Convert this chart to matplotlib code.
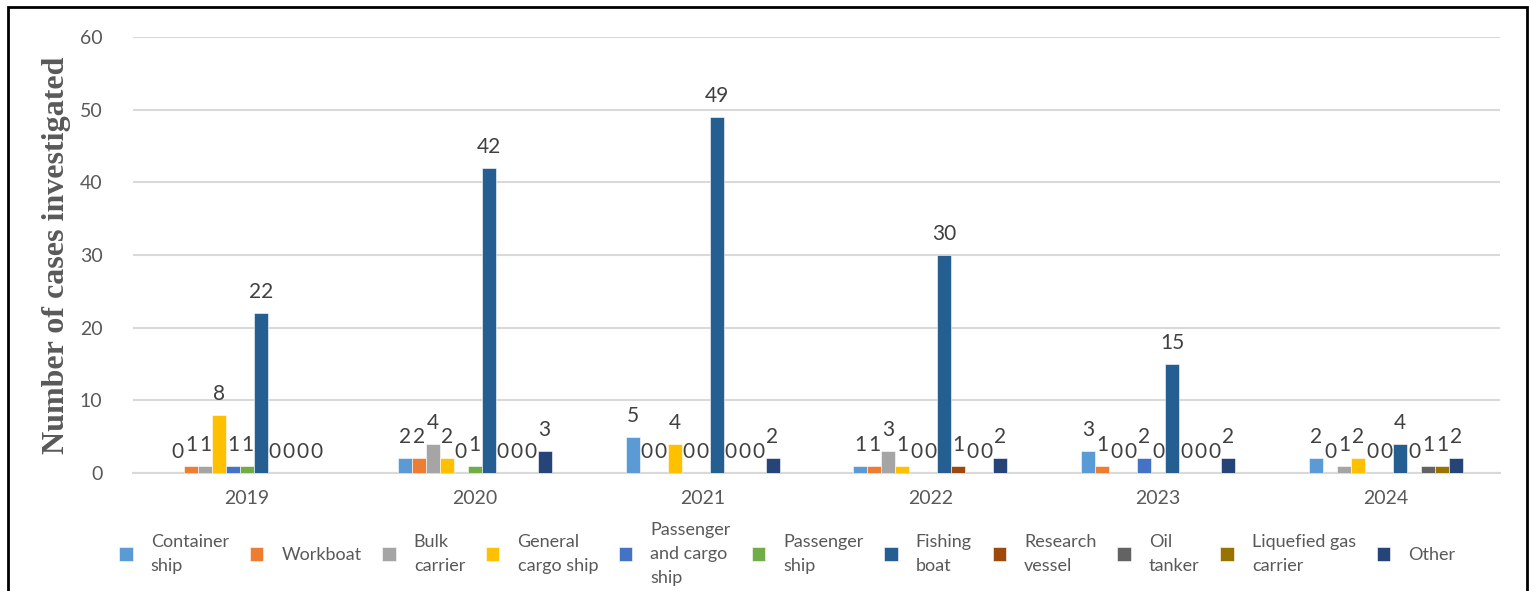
import matplotlib.pyplot as plt
import numpy as np
from matplotlib.patches import Rectangle

years = ['2019', '2020', '2021', '2022', '2023', '2024']
ship_types = ['Container\nship', 'Workboat', 'Bulk\ncarrier', 'General\ncargo ship',
              'Passenger\nand cargo\nship', 'Passenger\nship', 'Fishing\nboat',
              'Research\nvessel', 'Oil\ntanker', 'Liquefied gas\ncarrier', 'Other']

container = [0, 2, 5, 1, 3, 2]
workboat = [1, 2, 0, 1, 1, 0]
bulk = [1, 4, 0, 3, 0, 1]
general_cargo = [8, 2, 4, 1, 0, 2]
passenger_cargo = [1, 0, 0, 0, 2, 0]
passenger = [1, 1, 0, 0, 0, 0]
fishing = [22, 42, 49, 30, 15, 4]
research = [0, 0, 0, 1, 0, 0]
oil_tanker = [0, 0, 0, 0, 0, 1]
lng = [0, 0, 0, 0, 0, 1]
other = [0, 3, 2, 2, 2, 2]

series = [container, workboat, bulk, general_cargo, passenger_cargo, passenger,
          fishing, research, oil_tanker, lng, other]
colors = ['#5B9BD5', '#ED7D31', '#A5A5A5', '#FFC000', '#4472C4', '#70AD47',
          '#255E91', '#9E480E', '#636363', '#997300', '#264478']

plt.rcParams['font.family'] = ['Lato', 'DejaVu Sans']

fig = plt.figure(figsize=(15.29, 5.91), dpi=100)
ax = fig.add_axes([0.087, 0.1997, 0.894, 0.7377])

x = np.arange(len(years))
n = len(series)
w = 0.0614
for i, (vals, col) in enumerate(zip(series, colors)):
    pos = x + (i - (n - 1) / 2) * w
    bars = ax.bar(pos, vals, w, color=col, edgecolor='white', linewidth=0.4,
                  label=ship_types[i], zorder=3)
    for b, v in zip(bars, vals):
        ax.annotate(str(v), (b.get_x() + b.get_width() / 2, v),
                    xytext=(0, 8), textcoords='offset points',
                    ha='center', va='bottom', fontsize=15, color='#404040')

ax.set_xlim(-0.5, len(years) - 0.5)
ax.set_ylim(0, 60)
ax.set_yticks(range(0, 61, 10))
ax.set_xticks(x)
ax.set_xticklabels(years)
ax.tick_params(axis='both', length=0, labelsize=14, labelcolor='#595959')
ax.tick_params(axis='x', pad=12)
ax.tick_params(axis='y', pad=22)
ax.yaxis.grid(True, color='#D9D9D9', linewidth=1.5, zorder=0)
for s in ['top', 'right', 'left']:
    ax.spines[s].set_visible(False)
ax.spines['bottom'].set_color('#D9D9D9')
ax.spines['bottom'].set_linewidth(1.5)

ax.set_ylabel('Number of cases investigated', family=['Liberation Serif'],
              fontweight='bold', fontsize=23, color='#595959', labelpad=6)

leg = fig.legend(loc='center', bbox_to_anchor=(0.515, 0.063), ncol=n,
                 frameon=False, fontsize=13, handlelength=0.75, handleheight=0.75,
                 handletextpad=1.0, columnspacing=1.15, labelcolor='#595959')
for t in leg.get_texts():
    t.set_linespacing(1.6)

fig.add_artist(Rectangle((8 / 1529, -0.05), 1519 / 1529, 1 - 7 / 591 + 0.05,
                         transform=fig.transFigure, fill=False,
                         edgecolor='black', linewidth=2))

fig.savefig('out.png', dpi=100)
